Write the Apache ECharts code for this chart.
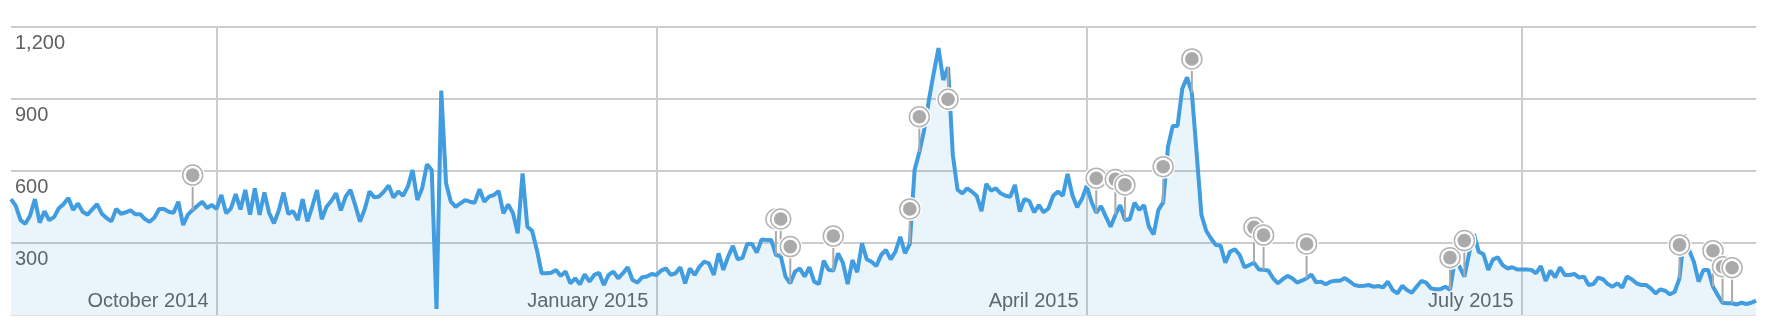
<!DOCTYPE html>
<html><head><meta charset="utf-8">
<script src="https://cdn.jsdelivr.net/npm/echarts@6/dist/echarts.min.js"></script>
<style>html,body{margin:0;padding:0;background:#fff}#c{width:1778px;height:334px}</style>
</head><body><div id="c"></div>
<script>
// Daily sessions, 19 Aug 2014 .. 19 Aug 2015
const startDate = [2014, 7, 19];
const visits = [
483,455,395,380,415,483,385,432,395,408,445,462,487,438,465,430,418,440,462,422,
404,390,442,422,428,436,420,420,400,388,406,442,442,430,426,472,375,418,438,455,
472,446,458,442,500,424,444,504,440,521,418,528,417,511,425,382,435,510,421,433,
396,483,390,451,521,399,451,475,507,436,493,521,458,389,442,515,490,494,514,540,
490,515,497,535,604,479,528,628,604,25,935,549,472,451,465,479,472,468,524,472,
493,500,517,424,461,424,340,590,368,351,271,174,174,176,188,163,181,132,153,128,
169,139,167,176,125,167,181,153,174,199,146,135,157,160,171,167,185,194,167,174,
199,132,194,167,201,222,215,167,257,188,243,288,232,238,296,296,260,315,313,313,
250,246,160,132,181,194,160,199,139,129,226,188,185,257,218,129,229,178,299,232,
222,204,250,271,232,264,326,257,296,604,679,771,896,1008,1112,979,1033,667,521,507,
528,514,496,433,546,518,528,507,497,493,542,431,483,475,428,458,428,444,497,514,
497,588,500,449,483,538,472,426,454,410,368,417,458,396,399,468,438,458,368,336,
438,469,701,788,788,944,990,926,674,417,351,319,292,289,218,264,274,250,199,208,
218,190,188,185,153,132,149,163,153,135,143,153,169,136,139,128,139,143,143,154,
140,125,121,122,125,118,121,115,139,104,90,122,104,93,118,142,135,111,107,107,
118,105,226,201,160,257,337,264,253,188,232,240,208,194,199,190,190,190,188,174,
204,142,185,157,199,167,167,171,156,160,125,129,156,149,129,118,132,114,160,149,
132,125,125,111,90,107,101,86,97,153,335,271,222,139,188,188,118,83,51,49,
49,44,51,46,51,60
];
const monthLabels = {
  '2014-10-01': 'October 2014',
  '2015-01-01': 'January 2015',
  '2015-04-01': 'April 2015',
  '2015-07-01': 'July 2015'
};
const yMax = 1200;
const yStep = 300;
// annotation pins: [day index, pin height value]
const annotations = [
  [38,583],[160,400],[161,400],[163,285],[172,329],[188,442],[190,826],[196,899],
  [227,570],[231,565],[233,542],[241,618],[247,1067],[260,365],[262,333],[271,296],
  [301,239],[304,310],[349,292],[356,268],[358,201],[360,197]
];

const dates = [];
const t0 = Date.UTC(startDate[0], startDate[1], startDate[2]);
for (let i = 0; i < visits.length; i++) {
  dates.push(new Date(t0 + i * 86400000).toISOString().slice(0, 10));
}
const isMonth = (idx, val) => monthLabels[dates[idx]] !== undefined;
const font = {fontFamily: '"Liberation Sans", Arial, sans-serif', fontSize: 20, color: '#606060',
  textBorderColor: '#fff', textBorderWidth: 3};

const chart = echarts.init(document.getElementById('c'), null, {renderer: 'canvas'});
chart.setOption({
  animation: false,
  grid: {left: 11, right: 22, top: 27, bottom: 19},
  xAxis: {
    type: 'category', data: dates, boundaryGap: false,
    axisTick: {show: false},
    axisLine: {show: true, lineStyle: {color: '#e2e2e2', width: 1}},
    axisLabel: Object.assign({
      inside: true, interval: isMonth, formatter: v => monthLabels[v] || '',
      align: 'right', verticalAlign: 'bottom', padding: [0, 8, 0, 0], margin: 4
    }, font),
    splitLine: {show: true, interval: isMonth, lineStyle: {color: '#cccccc', width: 2}}
  },
  yAxis: {
    type: 'value', min: 0, max: yMax, interval: yStep,
    axisLine: {show: false}, axisTick: {show: false},
    axisLabel: Object.assign({
      inside: true, showMinLabel: false, align: 'left', verticalAlign: 'top',
      padding: [6, 0, 0, 0], margin: 4,
      formatter: v => v.toLocaleString('en-US')
    }, font),
    splitLine: {show: true, showMinLine: false, lineStyle: {color: '#cccccc', width: 2}}
  },
  series: [
    {
      type: 'line', data: visits, symbol: 'none', z: 3,
      lineStyle: {color: '#419ce0', width: 4},
      itemStyle: {color: '#419ce0'},
      areaStyle: {color: 'rgba(70,155,222,0.16)'}
    },
    {
      type: 'custom', z: 5,
      data: annotations.map(a => [a[0], a[1], visits[a[0]]]),
      encode: {x: 0, y: 1},
      renderItem: function (params, api) {
        const i = api.value(0);
        const top = api.coord([i, api.value(1)]);
        const base = api.coord([i, api.value(2)]);
        const r = 10;
        return {type: 'group', children: [
          {type: 'line', shape: {x1: top[0], y1: top[1] + r, x2: base[0], y2: base[1]},
            style: {stroke: '#aaaaaa', lineWidth: 2}},
          {type: 'circle', shape: {cx: top[0], cy: top[1], r: r + 2}, style: {fill: '#fff'}},
          {type: 'circle', shape: {cx: top[0], cy: top[1], r: r}, style: {fill: '#fff', stroke: '#b3b3b3', lineWidth: 1.5}},
          {type: 'circle', shape: {cx: top[0], cy: top[1], r: 6.8}, style: {fill: '#aaaaaa'}}
        ]};
      }
    }
  ]
});
</script>
</body></html>
